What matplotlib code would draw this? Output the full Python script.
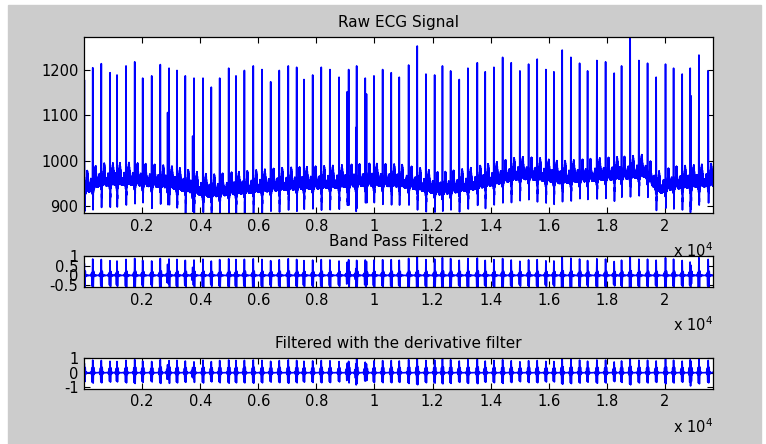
import numpy as np
import matplotlib
matplotlib.use("Agg")
import matplotlib.pyplot as plt
from matplotlib.patches import Rectangle

# R peaks: sample index and peak value
r_pos = [10, 300, 595, 895, 1136, 1446, 1745, 2020, 2330, 2626, 2878, 2926,
         3201, 3487, 3741, 3786, 4096, 4382, 4671, 4981, 5232, 5521, 5827,
         6127, 6426, 6722, 7032, 7321, 7572, 7872, 8168, 8467, 8780, 9063,
         9111, 9362, 9386, 9682, 9724, 9982, 10281, 10577, 10853, 11176,
         11472, 11772, 12071, 12340, 12622, 12918, 13217, 13540, 13813,
         14112, 14412, 14708, 15007, 15306, 15602, 15902, 16177, 16463,
         16763, 17062, 17337, 17657, 17957, 18253, 18507, 18803, 19103,
         19402, 19698, 20020, 20298, 20594, 20870, 20894, 21171, 21490]
r_val = [1178, 1205, 1214, 1194, 1189, 1209, 1218, 1182, 1187, 1212, 1106, 1204,
         1199, 1187, 1054, 1182, 1182, 1162, 1182, 1204, 1187, 1199, 1209,
         1201, 1174, 1199, 1209, 1206, 1179, 1189, 1206, 1201, 1184, 1152,
         1201, 1073, 1209, 1182, 1147, 1187, 1201, 1194, 1184, 1211,
         1253, 1191, 1189, 1209, 1198, 1179, 1204, 1216, 1196,
         1206, 1228, 1216, 1198, 1213, 1224, 1201, 1196, 1244,
         1228, 1215, 1198, 1221, 1218, 1193, 1209, 1273, 1221,
         1215, 1184, 1213, 1204, 1191, 1204, 1143, 1233, 1198]

# baseline wander (sample, level)
base_pos = [0, 550, 1580, 2960, 3650, 4340, 5025, 6750, 8470, 9840, 10880,
            11570, 12250, 13290, 14320, 15000, 15700, 16380, 17760, 18790,
            19300, 19800, 20300, 21665]
base_val = [932, 952, 954, 947, 937, 927, 932, 942, 947, 952, 950,
            942, 932, 942, 957, 967, 964, 957, 964, 968,
            972, 935, 945, 952]

n_samples = 21666
fs = 360
xticks = [2000, 4000, 6000, 8000, 10000, 12000, 14000, 16000, 18000, 20000]
xlabels = ['0.2', '0.4', '0.6', '0.8', '1', '1.2', '1.4', '1.6', '1.8', '2']

# build the raw trace from the beats
n = np.arange(n_samples)
ecg = np.interp(n, base_pos, base_val)
ecg = ecg + 9 * np.sin(np.pi * n / 3)   # mains hum
for i, (p, v) in enumerate(zip(r_pos, r_val)):
    lo, hi = max(p - 120, 0), min(p + 200, n_samples)
    d = n[lo:hi] - p
    amp = v - ecg[p]
    qrs = np.interp(d, [-22, -10, 0, 9, 20, 30], [0, -12, amp, -48, -8, 0])
    close_prev = i > 0 and p - r_pos[i - 1] < 100
    close_next = i < len(r_pos) - 1 and r_pos[i + 1] - p < 100
    if not close_prev:
        qrs = qrs + 12 * np.exp(-((d + 65) / 12.0) ** 2)
    if not close_next:
        qrs = qrs + 34 * np.exp(-((d - 100) / 25.0) ** 2)
    ecg[lo:hi] += qrs

# band pass 5-15 Hz (windowed sinc, zero phase)
k = np.arange(-72, 73)
def lowpass(fc):
    return 2 * fc / fs * np.sinc(2 * fc / fs * k)
h_bp = (lowpass(15) - lowpass(5)) * np.hamming(len(k))
ecg_h = np.convolve(ecg - ecg.mean(), h_bp, mode='same')
ecg_h = np.convolve(ecg_h, h_bp, mode='same')
ecg_h = ecg_h / np.max(np.abs(ecg_h))

# derivative filter, forward and backward
b = np.array([1, 2, 0, -2, -1]) * (1 / 8) * fs
ecg_d = np.convolve(ecg_h, b, mode='same')
ecg_d = np.convolve(ecg_d, b[::-1], mode='same')
ecg_d = ecg_d / np.max(ecg_d)

plt.rcParams['font.family'] = ['DejaVu Sans']
plt.rcParams['axes.unicode_minus'] = False
fig = plt.figure(figsize=(7.66, 4.44), dpi=100, facecolor='white')
fig.patches.append(Rectangle((8 / 766, 0), 753 / 766, 439 / 444,
                             transform=fig.transFigure, color='#cccccc', zorder=-1))

ax1 = fig.add_axes([0.1097, 0.5203, 0.8215, 0.3964])
ax2 = fig.add_axes([0.1097, 0.3536, 0.8215, 0.0698])
ax3 = fig.add_axes([0.1097, 0.1240, 0.8215, 0.0700])

ax1.plot(n, ecg, color='blue', lw=1.2)
ax1.set_ylim(884, 1273)
ax1.set_yticks([900, 1000, 1100, 1200])
ax1.set_title('Raw ECG Signal', fontsize=11, pad=7)

ax2.plot(n, ecg_h, color='blue', lw=1.2)
ax2.set_ylim(-0.6, 1.0)
ax2.set_yticks([-0.5, 0, 0.5, 1])
ax2.set_yticklabels(['-0.5', '0', '0.5', '1'])
ax2.set_title('Band Pass Filtered', fontsize=11, pad=7)

ax3.plot(n, ecg_d, color='blue', lw=1.2)
ax3.set_ylim(-1.1, 1.0)
ax3.set_yticks([-1, 0, 1])
ax3.set_title('Filtered with the derivative filter', fontsize=11, pad=7)

for ax in (ax1, ax2, ax3):
    ax.set_xlim(0, n_samples - 1)
    ax.set_xticks(xticks)
    ax.set_xticklabels(xlabels)
    ax.set_facecolor('white')
    ax.tick_params(direction='in', top=True, right=True, length=4, width=0.8,
                   labelsize=10.5, pad=4)
    for s in ax.spines.values():
        s.set_linewidth(0.9)
    ax.annotate(r'x 10$^{4}$', xy=(1, 0), xycoords='axes fraction',
                xytext=(0, -27), textcoords='offset points',
                ha='right', va='center', fontsize=10.5)

fig.savefig('out.png', dpi=100, facecolor=fig.get_facecolor())
